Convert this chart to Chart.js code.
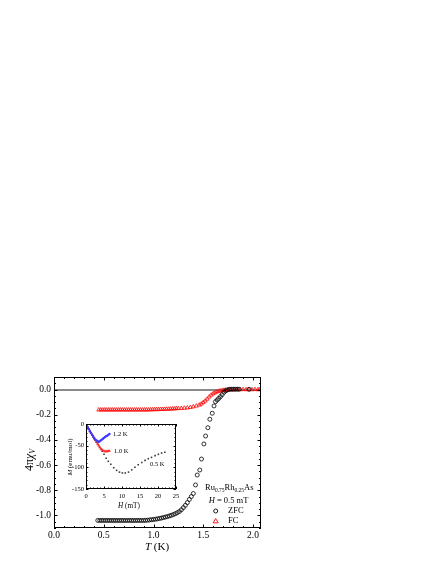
<!DOCTYPE html>
<html lang="en">
<head>
<meta charset="UTF-8">
<title>Ru0.75Rh0.25As susceptibility</title>
<script src="https://cdn.jsdelivr.net/npm/chart.js"></script>
<style>
  body { margin: 0; background: #fff; }
  #wrap { position: relative; width: 436px; height: 564px; }
  #mainChart { position: absolute; left: 0; top: 0; }
  #insetChart { position: absolute; left: 40px; top: 415px; }
</style>
</head>
<body>
<div id="wrap">
  <canvas id="mainChart" width="436" height="564"></canvas>
  <canvas id="insetChart" width="145" height="100"></canvas>
</div>
<script>
const SERIF = '"Liberation Serif", "DejaVu Serif", serif';

// main panel: 4*pi*chi_V vs T
const zfcT = [0.44,0.46,0.48,0.50,0.52,0.54,0.56,0.58,0.60,0.62,0.64,0.66,0.68,0.70,0.72,0.74,0.76,0.78,0.80,0.82,0.84,0.86,0.88,0.90,
  0.92,0.94,0.96,0.98,1.00,1.02,1.04,1.06,1.08,1.10,1.12,1.14,1.16,1.18,1.20,1.22,1.24,1.26,1.28,1.30,1.32,1.34,1.36,1.38,1.40,
  1.422,1.439,1.465,1.482,1.506,1.523,1.546,1.566,1.59,1.608,1.623,1.64,1.655,1.673,1.69,1.707,1.725,1.74,1.76,1.78,1.80,1.82,1.84,1.86,1.96];
const zfcChi = [-1.040,-1.040,-1.040,-1.040,-1.040,-1.040,-1.040,-1.040,-1.040,-1.040,-1.040,-1.040,-1.040,-1.040,-1.040,-1.040,-1.040,-1.040,-1.040,-1.040,-1.040,-1.040,-1.040,-1.040,
  -1.039,-1.038,-1.036,-1.034,-1.032,-1.030,-1.027,-1.024,-1.021,-1.017,-1.013,-1.009,-1.004,-0.999,-0.993,-0.986,-0.978,-0.969,-0.955,-0.938,-0.920,-0.898,-0.873,-0.850,-0.826,
  -0.758,-0.679,-0.639,-0.552,-0.432,-0.369,-0.303,-0.236,-0.188,-0.130,-0.096,-0.083,-0.070,-0.056,-0.040,-0.022,-0.010,-0.003,0.002,0.003,0.003,0.003,0.003,0.003,0.002];

const fcT = [0.45,0.47,0.49,0.51,0.53,0.55,0.57,0.59,0.61,0.63,0.65,0.67,0.69,0.71,0.73,0.75,0.77,0.79,0.81,0.83,0.85,0.87,0.89,0.91,0.93,0.95,
  0.97,0.99,1.01,1.03,1.05,1.07,1.09,1.11,1.13,1.15,1.17,1.19,1.21,1.23,1.25,
  1.28,1.31,1.34,1.37,1.40,1.43,1.46,1.48,1.50,1.52,1.54,1.56,1.58,1.60,1.62,1.64,1.66,1.68,1.70,1.72,1.75,1.78,1.81,1.84,1.87,1.90,1.93,1.96,1.99,2.02,2.05,2.07];
const fcChi = [-0.161,-0.161,-0.161,-0.161,-0.161,-0.161,-0.161,-0.161,-0.161,-0.161,-0.161,-0.161,-0.161,-0.161,-0.161,-0.161,-0.161,-0.161,-0.161,-0.161,-0.161,-0.161,-0.161,-0.161,-0.161,-0.161,
  -0.160,-0.159,-0.159,-0.158,-0.158,-0.157,-0.157,-0.156,-0.155,-0.155,-0.154,-0.153,-0.152,-0.151,-0.150,
  -0.149,-0.147,-0.145,-0.141,-0.136,-0.130,-0.122,-0.114,-0.102,-0.090,-0.075,-0.058,-0.043,-0.032,-0.024,-0.017,-0.012,-0.008,-0.005,-0.003,-0.002,-0.001,0.000,0.001,0.000,0.001,0.000,0.001,0.000,0.001,0.000,0.001];

const xTickVals = [0, 0.5, 1.0, 1.5, 2.0];
const yTickVals = [-1.0, -0.8, -0.6, -0.4, -0.2, 0.0];

// inset: M vs H at three temperatures
const h05 = [0.2,0.5,0.8,1.1,1.4,1.7,2.0,2.3,2.6,2.9,3.2,3.5,3.8,4.1,4.5,5.0,5.6,6.2,6.9,7.7,8.5,9.3,10.1,10.9,11.8,12.7,13.6,14.5,15.5,16.4,17.3,18.2,19.2,20.1,21.0,21.9];
const m05 = [-3,-7,-11,-16,-20,-24,-28,-32,-37,-41,-45,-49,-53,-57,-63,-70,-79,-86,-93,-101,-107,-111,-113,-113,-111,-106,-100,-94,-89,-84,-80,-77,-73,-70,-67,-65];
const h10 = [0.2,0.5,0.8,1.1,1.4,1.7,2.0,2.3,2.6,2.9,3.2,3.5,3.8,4.1,4.4,4.7,5.0,5.3,5.6,5.9,6.2,6.5];
const m10 = [-3,-8,-12,-17,-21,-26,-30,-34,-38,-42,-46,-50,-54,-57,-59,-61,-62,-63,-63,-63,-62,-62];
const h12 = [0.2,0.5,0.8,1.1,1.4,1.7,2.0,2.3,2.6,2.9,3.2,3.5,3.8,4.1,4.4,4.7,5.0,5.3,5.6,5.9,6.2,6.5];
const m12 = [-3,-8,-12,-17,-21,-25,-29,-33,-36,-38,-40,-41,-40,-38,-36,-34,-32,-30,-28,-27,-25,-23];

const insetXTicks = [0, 5, 10, 15, 20, 25];
const insetYTicks = [-150, -100, -50, 0];

const pts = (xs, ys) => xs.map((x, i) => ({x: x, y: ys[i]}));
const fixTicks = vals => s => { s.ticks = vals.map(v => ({value: v})); };

// draw a run of text pieces (italic / subscript) starting at x or centred on x
function drawRuns(ctx, runs, x, y, align) {
  const fontOf = r => (r.italic ? 'italic ' : '') + r.size + 'px ' + SERIF;
  let w = 0;
  runs.forEach(r => { ctx.font = fontOf(r); w += ctx.measureText(r.t).width; });
  let cx = align === 'center' ? x - w / 2 : x;
  ctx.textAlign = 'left';
  ctx.textBaseline = 'middle';
  runs.forEach(r => {
    ctx.font = fontOf(r);
    ctx.fillText(r.t, cx, y + (r.dy || 0));
    cx += ctx.measureText(r.t).width;
  });
}

// box around the plot area with inward ticks on all four sides
function frameTicks(id, o) {
  return {
    id: id,
    afterDatasetsDraw(chart) {
      const {ctx, chartArea: a, scales: {x, y}} = chart;
      ctx.save();
      ctx.strokeStyle = '#000';
      ctx.lineWidth = 1;
      ctx.strokeRect(a.left + 0.5, a.top + 0.5, a.right - a.left - 1, a.bottom - a.top - 1);
      ctx.beginPath();
      for (let i = Math.ceil(x.min / o.xMinor - 1e-6); i * o.xMinor <= x.max + 1e-9; i++) {
        const v = i * o.xMinor;
        const len = Math.abs(v / o.xMajor - Math.round(v / o.xMajor)) < 1e-6 ? o.major : o.minor;
        const px = Math.round(x.getPixelForValue(v)) + 0.5;
        ctx.moveTo(px, a.bottom); ctx.lineTo(px, a.bottom - len);
        ctx.moveTo(px, a.top); ctx.lineTo(px, a.top + len);
      }
      for (let i = Math.ceil(y.min / o.yMinor - 1e-6); i * o.yMinor <= y.max + 1e-9; i++) {
        const v = i * o.yMinor;
        const len = Math.abs(v / o.yMajor - Math.round(v / o.yMajor)) < 1e-6 ? o.major : o.minor;
        const py = Math.round(y.getPixelForValue(v)) + 0.5;
        ctx.moveTo(a.left, py); ctx.lineTo(a.left + len, py);
        ctx.moveTo(a.right, py); ctx.lineTo(a.right - len, py);
      }
      ctx.stroke();
      ctx.restore();
    }
  };
}

const mainLabels = {
  id: 'mainLabels',
  afterDraw(chart) {
    const ctx = chart.ctx;
    ctx.save();
    ctx.fillStyle = '#000';
    // axis titles
    drawRuns(ctx, [{t: 'T', italic: true, size: 11}, {t: ' (K)', size: 11}], 157, 547, 'center');
    ctx.save();
    ctx.translate(30, 460);
    ctx.rotate(-Math.PI / 2);
    drawRuns(ctx, [{t: '4π', size: 12}, {t: 'χ', italic: true, size: 12}, {t: 'V', italic: true, size: 8, dy: 3}], 0, 0, 'center');
    ctx.restore();
    // sample name, field and legend
    drawRuns(ctx, [{t: 'Ru', size: 8.5}, {t: '0.75', size: 5.5, dy: 3}, {t: 'Rh', size: 8.5}, {t: '0.25', size: 5.5, dy: 3}, {t: 'As', size: 8.5}], 205, 488, 'left');
    drawRuns(ctx, [{t: 'H', italic: true, size: 8.5}, {t: ' = 0.5 mT', size: 8.5}], 228.5, 501, 'center');
    drawRuns(ctx, [{t: 'ZFC', size: 8.5}], 228, 511, 'left');
    drawRuns(ctx, [{t: 'FC', size: 8.5}], 228, 521, 'left');
    ctx.lineWidth = 0.9;
    ctx.strokeStyle = '#000';
    ctx.beginPath(); ctx.arc(215.7, 511, 2, 0, Math.PI * 2); ctx.stroke();
    ctx.strokeStyle = '#ff0000';
    ctx.beginPath();
    ctx.moveTo(215.7, 518.6); ctx.lineTo(218.2, 522.8); ctx.lineTo(213.2, 522.8); ctx.closePath();
    ctx.stroke();
    ctx.restore();
  }
};

const insetLabels = {
  id: 'insetLabels',
  afterDraw(chart) {
    const ctx = chart.ctx;
    ctx.save();
    ctx.fillStyle = '#000';
    drawRuns(ctx, [{t: 'H', italic: true, size: 7.2}, {t: ' (mT)', size: 7.2}], 89, 91, 'center');
    ctx.save();
    ctx.translate(30.5, 42);
    ctx.rotate(-Math.PI / 2);
    drawRuns(ctx, [{t: 'M', italic: true, size: 7}, {t: ' (emu/mol)', size: 7}], 0, 0, 'center');
    ctx.restore();
    drawRuns(ctx, [{t: '1.2 K', size: 6.5}], 73, 19, 'left');
    drawRuns(ctx, [{t: '1.0 K', size: 6.5}], 74, 36, 'left');
    drawRuns(ctx, [{t: '0.5 K', size: 6.5}], 110, 49, 'left');
    ctx.restore();
  }
};

new Chart(document.getElementById('mainChart'), {
  type: 'scatter',
  data: {
    datasets: [{
      label: 'ZFC',
      data: pts(zfcT, zfcChi),
      pointStyle: 'circle',
      pointRadius: 2,
      borderColor: '#000',
      borderWidth: 0.8,
      backgroundColor: 'rgba(0,0,0,0)'
    }, {
      label: 'FC',
      data: pts(fcT, fcChi),
      pointStyle: 'triangle',
      pointRadius: 2.3,
      borderColor: '#ff0000',
      borderWidth: 0.8,
      backgroundColor: 'rgba(0,0,0,0)'
    }]
  },
  options: {
    responsive: false,
    animation: false,
    devicePixelRatio: 1,
    layout: { padding: { top: 377, right: 175, left: 0, bottom: 0 } },
    plugins: { legend: { display: false }, tooltip: { enabled: false } },
    scales: {
      x: {
        type: 'linear',
        min: 0,
        max: 2.08,
        afterBuildTicks: fixTicks(xTickVals),
        afterFit(s) { s.height = 36; },
        grid: { display: false, drawTicks: false },
        border: { display: false },
        ticks: {
          padding: 2,
          maxRotation: 0,
          autoSkip: false,
          color: '#000',
          font: { family: SERIF, size: 9.5 },
          callback: v => v.toFixed(1)
        }
      },
      y: {
        min: -1.1,
        max: 0.1,
        afterBuildTicks: fixTicks(yTickVals),
        afterFit(s) { s.width = 54; },
        grid: {
          drawTicks: false,
          color: c => (c.tick && Math.abs(c.tick.value) < 1e-9) ? '#8a8a8a' : 'rgba(0,0,0,0)',
          lineWidth: c => (c.tick && Math.abs(c.tick.value) < 1e-9) ? 2 : 0
        },
        border: { display: false },
        ticks: {
          padding: 3,
          autoSkip: false,
          color: '#000',
          font: { family: SERIF, size: 9.5 },
          callback: v => v.toFixed(1)
        }
      }
    }
  },
  plugins: [frameTicks('mainFrame', { xMinor: 0.1, xMajor: 0.5, yMinor: 0.05, yMajor: 0.2, major: 3.5, minor: 2 }), mainLabels]
});

new Chart(document.getElementById('insetChart'), {
  type: 'scatter',
  data: {
    datasets: [{
      label: '1.2 K',
      data: pts(h12, m12),
      pointStyle: 'circle',
      pointRadius: 1.2,
      borderWidth: 0,
      backgroundColor: '#3a3aff'
    }, {
      label: '1.0 K',
      data: pts(h10, m10),
      pointStyle: 'triangle',
      pointRadius: 1.7,
      borderWidth: 0,
      backgroundColor: '#ff2a2a'
    }, {
      label: '0.5 K',
      data: pts(h05, m05),
      pointStyle: 'rect',
      pointRadius: 1.1,
      borderWidth: 0,
      backgroundColor: '#333'
    }]
  },
  options: {
    responsive: false,
    animation: false,
    devicePixelRatio: 1,
    layout: { padding: { top: 9, right: 9, left: 0, bottom: 0 } },
    plugins: { legend: { display: false }, tooltip: { enabled: false } },
    scales: {
      x: {
        type: 'linear',
        min: 0,
        max: 25,
        afterBuildTicks: fixTicks(insetXTicks),
        afterFit(s) { s.height = 26; },
        grid: { display: false, drawTicks: false },
        border: { display: false },
        ticks: {
          padding: 3,
          maxRotation: 0,
          autoSkip: false,
          color: '#000',
          font: { family: SERIF, size: 6.5 }
        }
      },
      y: {
        min: -150,
        max: 0,
        afterBuildTicks: fixTicks(insetYTicks),
        afterFit(s) { s.width = 46; },
        grid: { display: false, drawTicks: false },
        border: { display: false },
        ticks: {
          padding: 2,
          autoSkip: false,
          color: '#000',
          font: { family: SERIF, size: 6.5 }
        }
      }
    }
  },
  plugins: [frameTicks('insetFrame', { xMinor: 1, xMajor: 5, yMinor: 10, yMajor: 50, major: 2.5, minor: 1.5 }), insetLabels]
});
</script>
</body>
</html>
